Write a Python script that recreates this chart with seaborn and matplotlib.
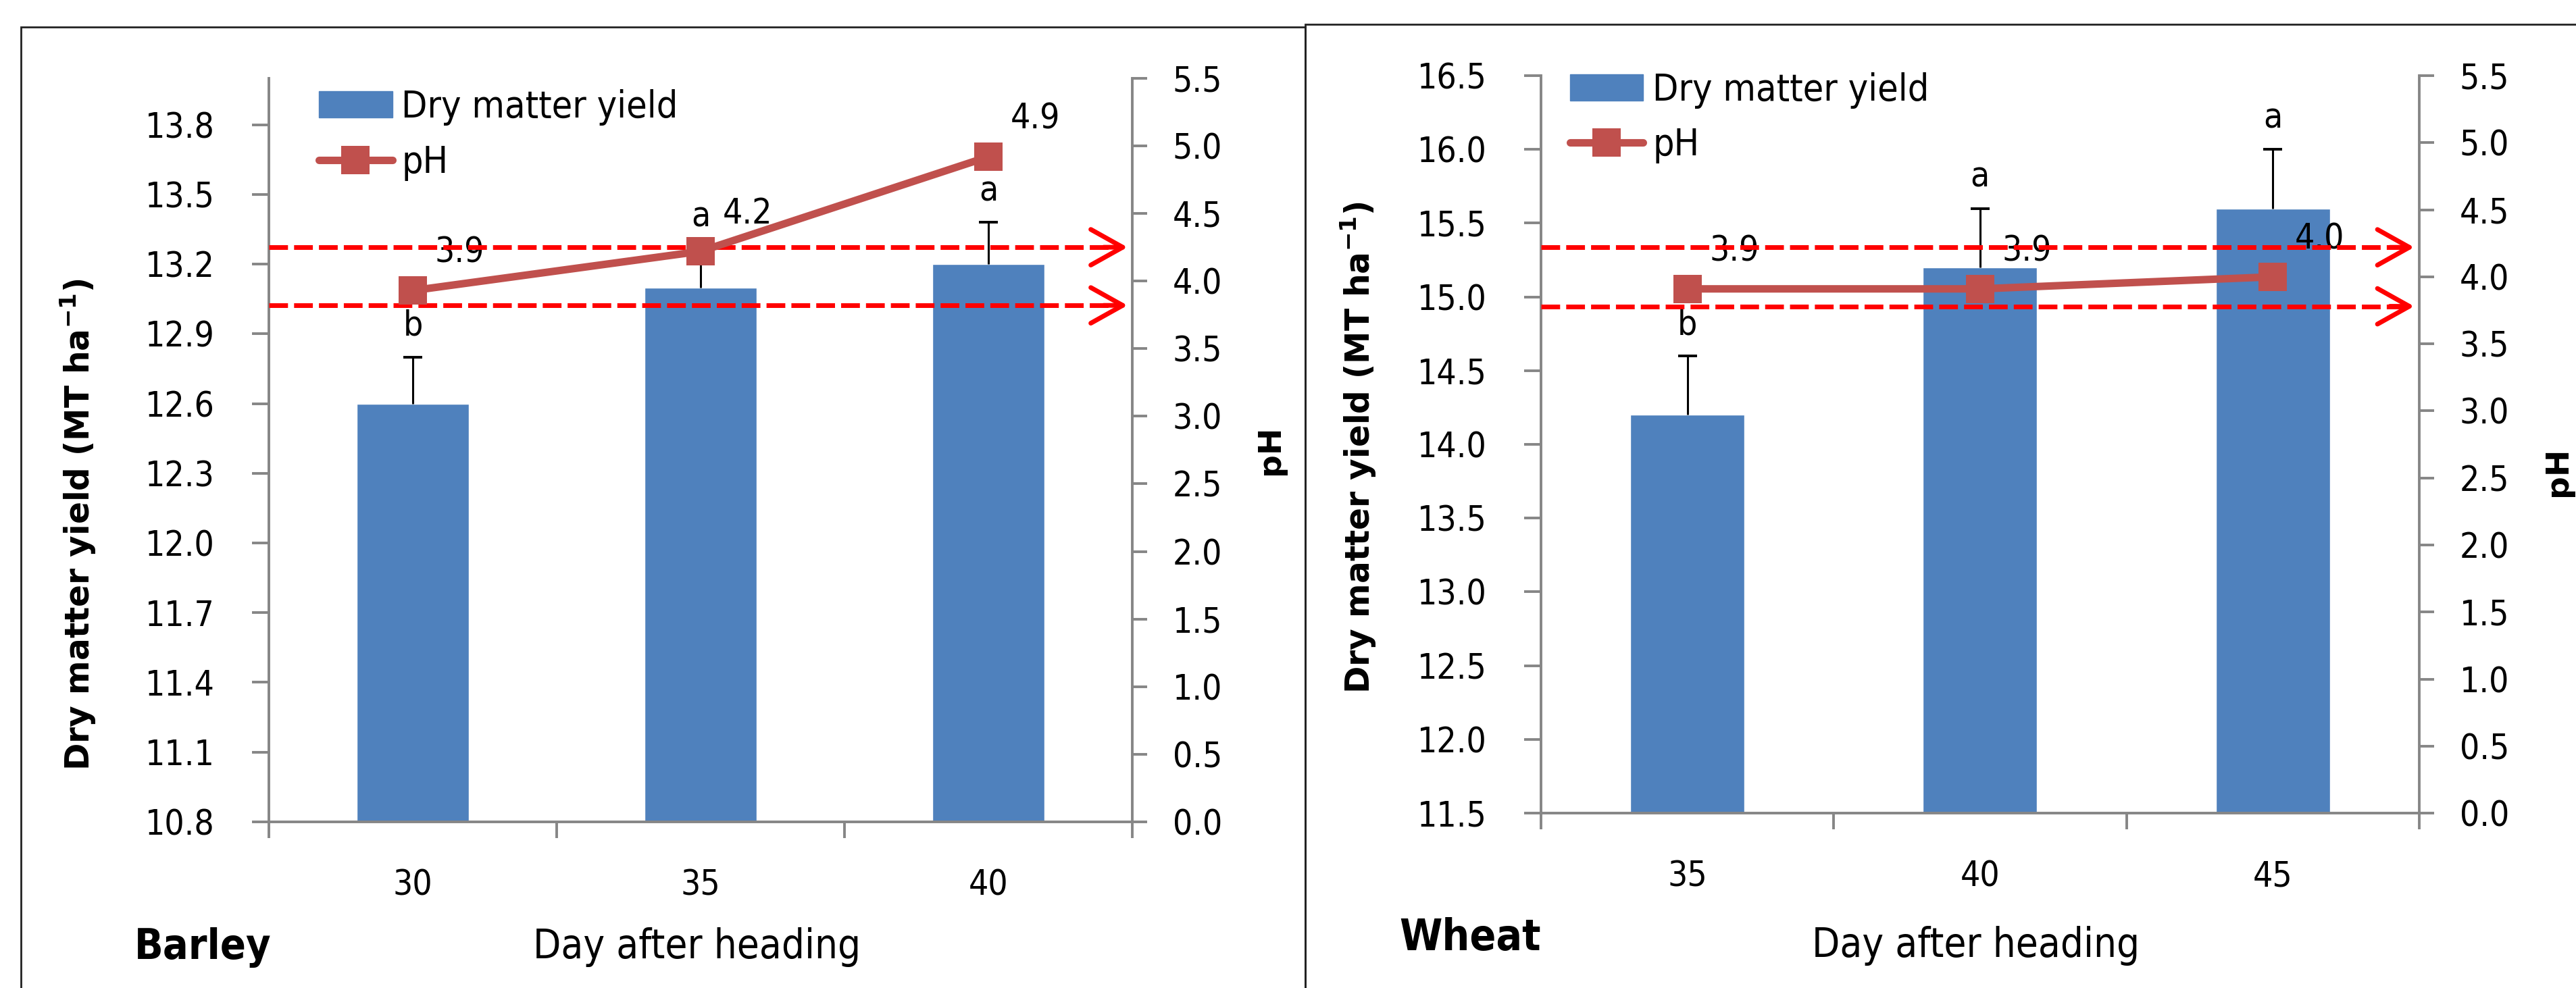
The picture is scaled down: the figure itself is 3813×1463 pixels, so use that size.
import numpy as np
import seaborn as sns
import matplotlib.pyplot as plt
from matplotlib.patches import Rectangle, Patch
from matplotlib.lines import Line2D

# data
barley_days = ['30', '35', '40']
barley_yield = [12.6, 13.1, 13.2]
barley_err = [0.2, 0.17, 0.18]
barley_letters = ['b', 'a', 'a']
barley_ph = [3.93, 4.22, 4.92]
barley_ph_text = ['3.9', '4.2', '4.9']

wheat_days = ['35', '40', '45']
wheat_yield = [14.2, 15.2, 15.6]
wheat_err = [0.4, 0.4, 0.4]
wheat_letters = ['b', 'a', 'a']
wheat_ph = [3.91, 3.91, 4.0]
wheat_ph_text = ['3.9', '3.9', '4.0']

barley_ph_limits = [3.82, 4.25]
wheat_ph_limits = [3.78, 4.22]

sns.set_style('white')
plt.rcParams['font.family'] = ['DejaVu Sans']
plt.rcParams['text.color'] = 'black'
plt.rcParams['axes.labelcolor'] = 'black'
plt.rcParams['xtick.labelcolor'] = 'black'
plt.rcParams['ytick.labelcolor'] = 'black'

bar_col = '#4F81BD'
line_col = '#C0504D'
grey = '#868686'
narrow = dict(family='DejaVu Sans', stretch='condensed')


def panel(rect, days, yld, err, letters, ph, ph_text, ylim, yticks, limits,
          ylab_pos, phlab_pos, leg_anchor):
    ax = fig.add_axes(rect)
    pos = np.arange(len(days))
    sns.barplot(x=days, y=yld, color=bar_col, saturation=1, width=0.39, ax=ax, zorder=2)
    eb = ax.errorbar(pos, yld, yerr=[np.zeros(len(err)), err], fmt='none', ecolor='black',
                     elinewidth=2.2, capsize=10, capthick=2.8, zorder=3)
    eb[1][0].set_visible(False)
    for x, y, e, l in zip(pos, yld, err, letters):
        ax.annotate(l, (x, y + e), xytext=(0, 33), textcoords='offset points',
                    ha='center', va='center', fontsize=37, **narrow)
    ax.set_xlim(-0.5, 2.5)
    ax.set_ylim(*ylim)
    ax.set_yticks(yticks)
    ax.set_yticklabels([f'{v:.1f}' for v in yticks], **narrow)
    ax.set_xticks(pos)
    ax.set_xticklabels(days, **narrow)
    ax.set_xticks([-0.5, 0.5, 1.5, 2.5], minor=True)
    ax.tick_params(axis='y', length=18, width=2.8, color=grey, pad=40, labelsize=37, left=True)
    ax.tick_params(axis='x', which='major', length=0, pad=50, labelsize=37)
    ax.tick_params(axis='x', which='minor', length=17, width=2.8, color=grey, bottom=True)
    for s in ['top', 'right']:
        ax.spines[s].set_visible(False)
    for s in ['left', 'bottom']:
        ax.spines[s].set_color(grey)
        ax.spines[s].set_linewidth(2.8)
    ax.set_xlabel('')
    ax.set_ylabel(r'Dry matter yield (MT ha$^{\mathbf{-1}}$)', fontsize=35,
                  fontweight='bold', family='DejaVu Sans')
    ax.yaxis.set_label_coords(*ylab_pos)

    ax2 = ax.twinx()
    sns.lineplot(x=pos, y=ph, color=line_col, lw=8, marker='s', markersize=30,
                 markeredgewidth=0, ax=ax2, zorder=6)
    for x, y, t in zip(pos, ph, ph_text):
        ax2.annotate(t, (x, y), xytext=(50, 40), textcoords='offset points',
                     ha='center', va='center', fontsize=37, zorder=4, **narrow)
    for lv in limits:
        ax2.hlines(lv, -0.5, 2.45, colors='red', lw=5, linestyles=(0, (4, 1.3)),
                   zorder=5, clip_on=False)
        ax2.annotate('', xy=(2.483, lv), xytext=(2.40, lv),
                     arrowprops=dict(arrowstyle='->,head_length=3.4,head_width=1.9',
                                     color='red', lw=5, mutation_scale=10,
                                     shrinkA=0, shrinkB=0), zorder=5)
    ph_ticks = np.arange(0, 5.51, 0.5)
    ax2.set_ylim(0, 5.5)
    ax2.set_yticks(ph_ticks)
    ax2.set_yticklabels([f'{v:.1f}' for v in ph_ticks], **narrow)
    ax2.tick_params(axis='y', length=16, width=2.8, color=grey, pad=27, labelsize=37, right=True)
    for s in ['top', 'left', 'bottom']:
        ax2.spines[s].set_visible(False)
    ax2.spines['right'].set_color(grey)
    ax2.spines['right'].set_linewidth(2.8)
    ax2.set_ylabel('pH', fontsize=34, fontweight='bold', family='DejaVu Sans')
    ax2.yaxis.set_label_coords(*phlab_pos)

    handles = [Patch(color=bar_col),
               Line2D([], [], color=line_col, lw=8, marker='s', markersize=30, markeredgewidth=0)]
    ax2.legend(handles, ['Dry matter yield', 'pH'], loc='upper left', bbox_to_anchor=leg_anchor,
               frameon=False, prop=dict(size=40, **narrow), handlelength=1.95, handleheight=0.7,
               handletextpad=0.25, labelspacing=0.5, borderpad=0, borderaxespad=0)
    return ax, ax2


fig = plt.figure(figsize=(38.13, 14.63), dpi=100)

panel([0.1044, 0.1682, 0.3352, 0.7526], barley_days, barley_yield, barley_err, barley_letters,
      barley_ph, barley_ph_text, (10.8, 14.0), np.arange(10.8, 13.81, 0.3), barley_ph_limits,
      (-0.198, 0.40), (1.142, 0.5), (0.058, 0.985))
panel([0.5982, 0.1770, 0.3409, 0.7464], wheat_days, wheat_yield, wheat_err, wheat_letters,
      wheat_ph, wheat_ph_text, (11.5, 16.5), np.arange(11.5, 16.51, 0.5), wheat_ph_limits,
      (-0.185, 0.496), (1.141, 0.463), (0.033, 1.005))

fig.text(199 / 3813, 1 - 1403 / 1463, 'Barley', fontsize=45, fontweight='bold',
         ha='left', va='center', **narrow)
fig.text(2071 / 3813, 1 - 1389 / 1463, 'Wheat', fontsize=46, fontweight='bold',
         ha='left', va='center', **narrow)
fig.text(1032 / 3813, 1 - 1403 / 1463, 'Day after heading', fontsize=43,
         ha='center', va='center', **narrow)
fig.text(2925 / 3813, 1 - 1401 / 1463, 'Day after heading', fontsize=43,
         ha='center', va='center', **narrow)

# panel frames
fig.add_artist(Rectangle((31 / 3813, -0.1), (1932 - 31) / 3813, 1.1 - 40 / 1463,
                         transform=fig.transFigure, fill=False, ec='#222222', lw=2))
fig.add_artist(Rectangle((1932 / 3813, -0.1), 0.6, 1.1 - 36 / 1463,
                         transform=fig.transFigure, fill=False, ec='#222222', lw=2))

plt.savefig('out.png', dpi=100)
